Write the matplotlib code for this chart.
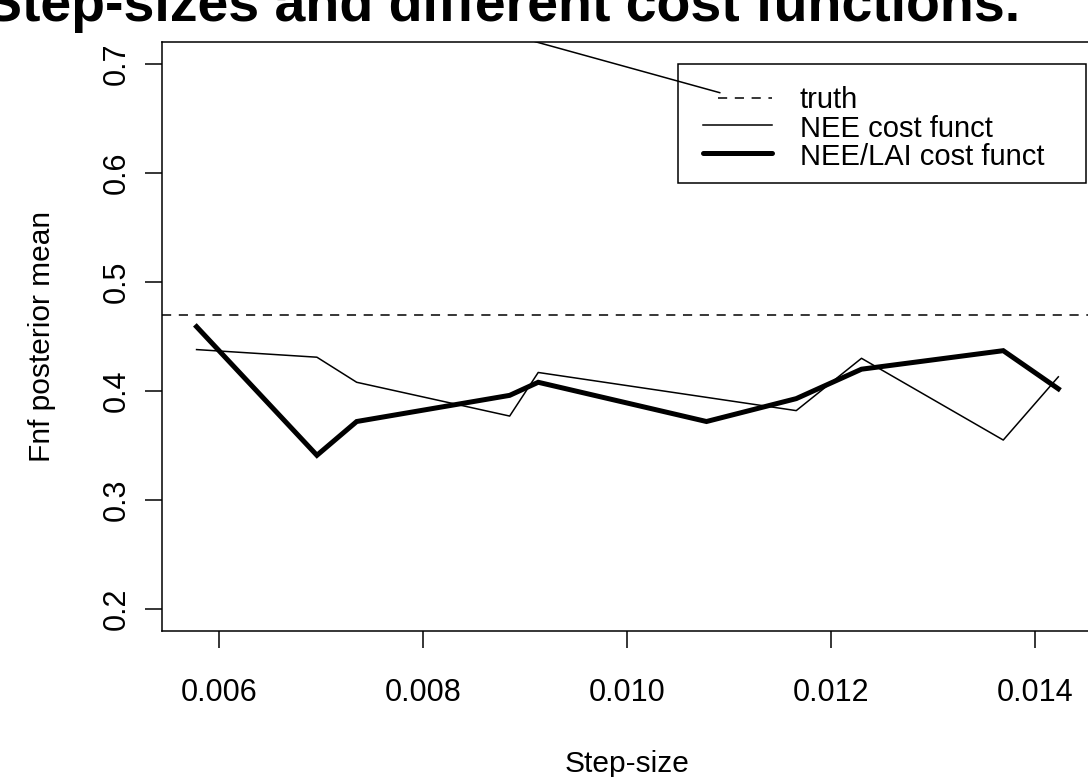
"""
Posterior mean of Fnf against step-size for the two cost functions.
"""

import matplotlib
matplotlib.use("Agg")
import matplotlib.pyplot as plt
from matplotlib.lines import Line2D
from matplotlib.patches import Rectangle

plt.rcParams['font.family'] = ['Liberation Sans', 'DejaVu Sans']

# Data
nee_step = [0.00578, 0.00696, 0.00735, 0.00885, 0.00913, 0.01166, 0.01230, 0.01369, 0.01423]
nee_mean = [0.438, 0.431, 0.408, 0.377, 0.417, 0.382, 0.430, 0.355, 0.413]
lai_step = [0.00578, 0.00696, 0.00735, 0.00885, 0.00913, 0.01078, 0.01166, 0.01230, 0.01369, 0.01423]
lai_mean = [0.459, 0.341, 0.372, 0.396, 0.408, 0.372, 0.393, 0.420, 0.437, 0.402]
truth = 0.47
pointer_step = [0.00910, 0.01091]
pointer_mean = [0.7205, 0.6737]

x_ticks = [0.006, 0.008, 0.010, 0.012, 0.014]
x_tick_labels = ["0.006", "0.008", "0.010", "0.012", "0.014"]
y_ticks = [0.2, 0.3, 0.4, 0.5, 0.6, 0.7]
y_tick_labels = ["0.2", "0.3", "0.4", "0.5", "0.6", "0.7"]
legend_labels = ["truth", "NEE cost funct", "NEE/LAI cost funct"]

W, H = 1088, 777


def fx(px):
	return px / W


def fy(py):
	return 1 - py / H


fig = plt.figure(figsize=(W / 100, H / 100), dpi=100)
ax = fig.add_axes([fx(162), fy(631), (1093 - 162) / W, (631 - 42) / H])

ax.axhline(truth, color="black", lw=1.1, dashes=(6, 5))
ax.plot(nee_step, nee_mean, color="black", lw=1.1)
ax.plot(lai_step, lai_mean, color="black", lw=3.6, solid_joinstyle="miter")
ax.plot(pointer_step, pointer_mean, color="black", lw=1.1)

ax.set_xlim(0.005441, 0.01457)
ax.set_ylim(0.1798, 0.7202)
ax.set_xticks(x_ticks, labels=x_tick_labels)
ax.set_yticks(y_ticks, labels=y_tick_labels)
for spine in ax.spines.values():
	spine.set_linewidth(1.1)
ax.tick_params(direction="out", length=12.5, width=1.1, labelsize=22)
ax.tick_params(axis="x", pad=21)
ax.tick_params(axis="y", pad=9, labelrotation=90)
for label in ax.get_yticklabels():
	label.set_verticalalignment("center")

# Axis labels and the (cropped) title
fig.text(fx(42), fy(336), "Fnf posterior mean", rotation=90,
	ha="center", va="center", fontsize=21.5)
fig.text(fx(627), fy(764), "Step-size", ha="center", va="center", fontsize=21.5)
fig.text(fx(1020), fy(21), "Step-sizes and different cost functions.",
	ha="right", va="baseline", fontsize=40, weight="bold")

# Legend box, drawn the way R places it
fig.add_artist(Rectangle((fx(678), fy(183)), fx(1086) - fx(678), fy(64) - fy(183),
	transform=fig.transFigure, fill=False, edgecolor="black", lw=1.1))
rows = [(98, 108, dict(lw=1.1, dashes=(6, 5)), 718),
	(125, 137, dict(lw=1.1), 703),
	(153, 165, dict(lw=3.6, solid_capstyle="round"), 703)]
for (line_y, text_y, style, x0), label in zip(rows, legend_labels):
	fig.add_artist(Line2D([fx(x0), fx(772)], [fy(line_y), fy(line_y)],
		transform=fig.transFigure, color="black", **style))
	fig.text(fx(800), fy(text_y), label, ha="left", va="baseline", fontsize=21)

fig.savefig("out.png", dpi=100)
